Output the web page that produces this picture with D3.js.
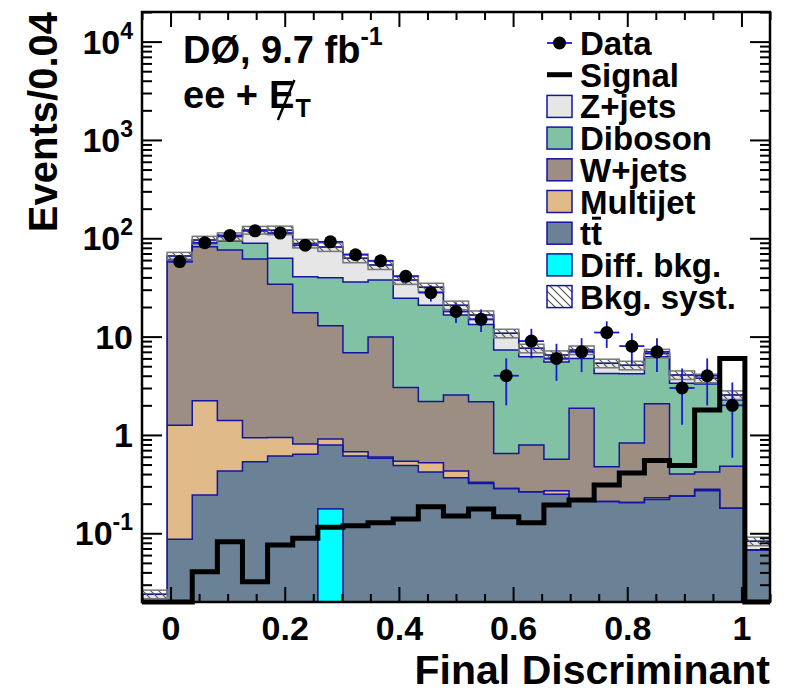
<!DOCTYPE html>
<html>
<head>
<meta charset="utf-8">
<script src="https://cdn.jsdelivr.net/npm/d3@7"></script>
<style>
  html, body { margin: 0; padding: 0; background: #fff; }
  svg text { font-family: "Liberation Sans", Arial, Helvetica, sans-serif; font-weight: bold; fill: #000; white-space: pre; }
</style>
</head>
<body>
<svg id="chart" width="785" height="693"></svg>
<script>
// 25 bins of width 0.044 spanning the full x range
const N_BINS = 25;
const X_LO = -0.05;
const BIN_W = 0.044;

// stacked backgrounds, per bin (bottom of stack first)
const ttbar    = [0, 0.087, 0.245, 0.43, 0.535, 0.61, 0.635, 0.79, 0.61, 0.578, 0.49, 0.42, 0.367, 0.32, 0.286, 0.265, 0.25, 0.22, 0.21, 0.205, 0.22, 0.24, 0.27, 0.18, 0.068];
const multijet = [0, 1.17, 1.98, 0.97, 0.40, 0.33, 0.175, 0.12, 0.066, 0.02, 0.05, 0.10, 0.063, 0.01, 0, 0, 0.02, 0, 0, 0, 0.01, 0, 0.01, 0, 0];
const wjets    = [0, 56.5, 79.8, 74.6, 60.6, 33.1, 16.7, 12.0, 6.18, 9.3, 2.50, 1.67, 2.12, 1.85, 0.36, 0.525, 0.295, 1.65, 0.265, 0.625, 1.84, 0.16, 0.14, 0.30, 0];
const diboson  = [0, 3.2, 7, 18, 27.5, 28.7, 23.1, 26.8, 29.1, 27.8, 21.5, 18.7, 14.0, 11.1, 6.65, 5.46, 4.94, 4.13, 3.73, 3.37, 4.18, 2.95, 2.88, 1.79, 0];
const zjets    = [0.024, 5, 7, 10, 32, 58, 48, 42, 26.7, 15.8, 13.2, 10.8, 4.3, 3.3, 3.5, 1.35, 1.0, 1.3, 1.15, 0.9, 0.5, 0.72, 0.47, 0.28, 0.015];

// overlaid histograms
const diffBkg  = [0, 0, 0, 0, 0, 0, 0, 0.177, 0, 0, 0, 0, 0, 0, 0, 0, 0, 0, 0, 0, 0, 0, 0, 0, 0];
const signal   = [0, 0, 0.0407, 0.082, 0.0321, 0.076, 0.089, 0.115, 0.119, 0.128, 0.14, 0.186, 0.15, 0.177, 0.147, 0.128, 0.194, 0.218, 0.31, 0.41, 0.55, 0.49, 1.79, 6.0, 0];
const dataCounts = [0, 58, 90, 107, 119, 113, 85, 92, 68, 59, 41, 28, 18, 15, 4, 9, 6, 7, 11, 8, 7, 3, 4, 2, 0];
const systFrac = [0.1, 0.09, 0.09, 0.09, 0.09, 0.1, 0.1, 0.1, 0.1, 0.1, 0.1, 0.1, 0.1, 0.1, 0.1, 0.1, 0.1, 0.1, 0.1, 0.1, 0.1, 0.1, 0.1, 0.1, 0.1];

// axis ticks
const xMajorTicks = [0, 0.2, 0.4, 0.6, 0.8, 1];
const xTickLabels = ['0', '0.2', '0.4', '0.6', '0.8', '1'];
const yMajorTicks = [0.1, 1, 10, 100, 1000, 10000];
const yTickLabels = [['10', '-1'], ['1', ''], ['10', ''], ['10', '2'], ['10', '3'], ['10', '4']];

const layers = [
  { key: 'ttbar',    color: '#6a8196', values: ttbar },
  { key: 'multijet', color: '#e0ba88', values: multijet },
  { key: 'wjets',    color: '#9c8e82', values: wjets },
  { key: 'diboson',  color: '#82c2a4', values: diboson },
  { key: 'zjets',    color: '#e6e6e6', values: zjets }
];

const LINE_BLUE = '#1414a0';
const DATA_BLUE = '#1a1ad0';

const frame = { left: 142, right: 770, top: 12, bottom: 602 };
const svg = d3.select('#chart');

const x = d3.scaleLinear().domain([X_LO, X_LO + N_BINS * BIN_W]).range([frame.left, frame.right]);
const y = d3.scaleLog().domain([0.02, 20000]).range([frame.bottom, frame.top]);
const yc = v => y(Math.max(v, 0.005));

const bins = d3.range(N_BINS).map(i => ({ i, lo: X_LO + i * BIN_W, hi: X_LO + (i + 1) * BIN_W }));

// table for d3.stack
const rows = bins.map(b => {
  const r = {};
  layers.forEach(l => { r[l.key] = l.values[b.i]; });
  return r;
});
const stacked = d3.stack().keys(layers.map(l => l.key))(rows);
const totals = rows.map(r => d3.sum(layers, l => r[l.key]));

const defs = svg.append('defs');
defs.append('clipPath').attr('id', 'plotclip')
  .append('rect')
  .attr('x', frame.left).attr('y', frame.top)
  .attr('width', frame.right - frame.left).attr('height', frame.bottom - frame.top);

const hatch = defs.append('pattern')
  .attr('id', 'hatch')
  .attr('patternUnits', 'userSpaceOnUse')
  .attr('width', 8).attr('height', 8);
hatch.append('path')
  .attr('d', 'M0,0 L8,8 M-2,6 L2,10 M6,-2 L10,2')
  .attr('stroke', '#555').attr('stroke-width', 1.2);

const plot = svg.append('g').attr('clip-path', 'url(#plotclip)');

// step points for a histogram
function stepPoints(vals) {
  const pts = [];
  bins.forEach(b => {
    pts.push({ x: b.lo, v: vals[b.i] });
    pts.push({ x: b.hi, v: vals[b.i] });
  });
  return pts;
}

// fills
stacked.forEach((s, k) => {
  const pts = [];
  bins.forEach(b => {
    pts.push({ x: b.lo, y0: s[b.i][0], y1: s[b.i][1] });
    pts.push({ x: b.hi, y0: s[b.i][0], y1: s[b.i][1] });
  });
  plot.append('path')
    .datum(pts)
    .attr('fill', layers[k].color)
    .attr('d', d3.area().x(d => x(d.x)).y0(d => yc(d.y0)).y1(d => yc(d.y1)));
});

// total outline (grey)
plot.append('path')
  .datum(stepPoints(totals))
  .attr('fill', 'none')
  .attr('stroke', '#777')
  .attr('stroke-width', 1.5)
  .attr('d', d3.line().x(d => x(d.x)).y(d => yc(d.v)));

// layer outlines (blue)
stacked.forEach(s => {
  const tops = s.map(d => d[1]);
  plot.append('path')
    .datum(stepPoints(tops))
    .attr('fill', 'none')
    .attr('stroke', LINE_BLUE)
    .attr('stroke-width', 1.5)
    .attr('d', d3.line().defined(d => d.v > 0).x(d => x(d.x)).y(d => yc(d.v)));
});

// syst band
plot.selectAll('.syst')
  .data(bins.filter(b => totals[b.i] > 0))
  .enter().append('rect')
  .attr('class', 'syst')
  .attr('x', b => x(b.lo))
  .attr('width', b => x(b.hi) - x(b.lo))
  .attr('y', b => y(totals[b.i] * (1 + systFrac[b.i])))
  .attr('height', b => y(totals[b.i] * (1 - systFrac[b.i])) - y(totals[b.i] * (1 + systFrac[b.i])))
  .attr('fill', 'url(#hatch)')
  .attr('stroke', '#777')
  .attr('stroke-width', 1.5);

// diff. bkg
plot.selectAll('.diff')
  .data(bins.filter(b => diffBkg[b.i] > 0))
  .enter().append('rect')
  .attr('class', 'diff')
  .attr('x', b => x(b.lo))
  .attr('width', b => x(b.hi) - x(b.lo))
  .attr('y', b => y(diffBkg[b.i]))
  .attr('height', b => frame.bottom + 5 - y(diffBkg[b.i]))
  .attr('fill', '#00ffff')
  .attr('stroke', LINE_BLUE)
  .attr('stroke-width', 1.5);

// signal
svg.append('path')
  .datum(stepPoints(signal))
  .attr('fill', 'none')
  .attr('stroke', '#000')
  .attr('stroke-width', 5)
  .attr('d', d3.line().x(d => x(d.x)).y(d => Math.min(yc(d.v), frame.bottom)));

// data
const dataBins = bins.filter(b => dataCounts[b.i] > 0);
const dg = plot.selectAll('.data').data(dataBins).enter().append('g');
dg.append('line')
  .attr('x1', b => x(b.lo)).attr('x2', b => x(b.hi))
  .attr('y1', b => y(dataCounts[b.i])).attr('y2', b => y(dataCounts[b.i]))
  .attr('stroke', DATA_BLUE).attr('stroke-width', 1.8);
dg.append('line')
  .attr('x1', b => x((b.lo + b.hi) / 2)).attr('x2', b => x((b.lo + b.hi) / 2))
  .attr('y1', b => yc(dataCounts[b.i] - Math.sqrt(dataCounts[b.i])))
  .attr('y2', b => y(dataCounts[b.i] + Math.sqrt(dataCounts[b.i])))
  .attr('stroke', DATA_BLUE).attr('stroke-width', 1.8);
dg.append('circle')
  .attr('cx', b => x((b.lo + b.hi) / 2))
  .attr('cy', b => y(dataCounts[b.i]))
  .attr('r', 6.5)
  .attr('fill', '#000');

// axes: ticks pointing inward
const xMinor = d3.range(-1, 22).map(k => k * 0.05).filter(v => !xMajorTicks.some(m => Math.abs(m - v) < 1e-6));
svg.append('g').attr('transform', `translate(0,${frame.bottom})`)
  .call(d3.axisBottom(x).tickValues(xMinor).tickSize(-8).tickFormat(''))
  .call(g => g.select('.domain').remove());
svg.append('g').attr('transform', `translate(0,${frame.top})`)
  .call(d3.axisTop(x).tickValues(xMinor).tickSize(-8).tickFormat(''))
  .call(g => g.select('.domain').remove());
svg.append('g').attr('transform', `translate(0,${frame.top})`)
  .call(d3.axisTop(x).tickValues(xMajorTicks).tickSize(-15).tickFormat(''))
  .call(g => g.select('.domain').remove());
const xAxis = svg.append('g').attr('transform', `translate(0,${frame.bottom})`)
  .call(d3.axisBottom(x).tickValues(xMajorTicks).tickSize(-15).tickPadding(14)
    .tickFormat((d, i) => xTickLabels[i]))
  .call(g => g.select('.domain').remove());
xAxis.selectAll('text').attr('font-size', 34).attr('font-family', null);

const yMinor = [];
for (let e = -2; e <= 4; e++) {
  for (let m = 2; m <= 9; m++) {
    const v = m * Math.pow(10, e);
    if (v >= 0.02 && v <= 20000) yMinor.push(v);
  }
}
[[d3.axisLeft, frame.left], [d3.axisRight, frame.right]].forEach(([ax, px]) => {
  svg.append('g').attr('transform', `translate(${px},0)`)
    .call(ax(y).tickValues(yMinor).tickSize(-10).tickFormat(''))
    .call(g => g.select('.domain').remove());
  svg.append('g').attr('transform', `translate(${px},0)`)
    .call(ax(y).tickValues(yMajorTicks).tickSize(-20).tickFormat(''))
    .call(g => g.select('.domain').remove());
});
svg.selectAll('.tick line').attr('stroke', '#000').attr('stroke-width', 2);

// y tick labels with exponents
yMajorTicks.forEach((v, i) => {
  const t = svg.append('text')
    .attr('x', 133).attr('y', y(v) + 12)
    .attr('text-anchor', 'end')
    .attr('font-size', 34);
  t.append('tspan').text(yTickLabels[i][0]);
  if (yTickLabels[i][1]) {
    t.append('tspan').attr('font-size', 23).attr('dy', -15).text(yTickLabels[i][1]);
  }
});

// frame
svg.append('rect')
  .attr('x', frame.left).attr('y', frame.top)
  .attr('width', frame.right - frame.left).attr('height', frame.bottom - frame.top)
  .attr('fill', 'none').attr('stroke', '#000').attr('stroke-width', 2.5);

// axis titles
svg.append('text')
  .attr('x', frame.right).attr('y', 684)
  .attr('text-anchor', 'end')
  .attr('font-size', 41)
  .text('Final Discriminant');
svg.append('text')
  .attr('transform', `translate(57,${frame.top}) rotate(-90)`)
  .attr('text-anchor', 'end')
  .attr('font-size', 40)
  .text('Events/0.04');

// experiment label
const lab1 = svg.append('text').attr('x', 183).attr('y', 63).attr('font-size', 38);
lab1.append('tspan').text('DØ, 9.7 fb');
lab1.append('tspan').attr('font-size', 25).attr('dy', -18).text('-1');

const lab2 = svg.append('text').attr('x', 183).attr('y', 108).attr('font-size', 38).text('ee +');
const eeW = lab2.node().getComputedTextLength() + 11;
const eText = svg.append('text').attr('x', 183 + eeW).attr('y', 108).attr('font-size', 38).text('E');
const eW = eText.node().getComputedTextLength();
svg.append('line')
  .attr('x1', 183 + eeW + eW * 0.35).attr('y1', 120)
  .attr('x2', 183 + eeW + eW * 1.0).attr('y2', 80)
  .attr('stroke', '#000').attr('stroke-width', 2.5);
svg.append('text').attr('x', 183 + eeW + eW + 1).attr('y', 117).attr('font-size', 25).text('T');

// legend
const legendItems = [
  { label: 'Data', type: 'data' },
  { label: 'Signal', type: 'signal' },
  { label: 'Z+jets', type: 'box', color: '#e6e6e6' },
  { label: 'Diboson', type: 'box', color: '#82c2a4' },
  { label: 'W+jets', type: 'box', color: '#9c8e82' },
  { label: 'Multijet', type: 'box', color: '#e0ba88' },
  { label: 'tt', type: 'box', color: '#6a8196', bar: true },
  { label: 'Diff. bkg.', type: 'box', color: '#00ffff' },
  { label: 'Bkg. syst.', type: 'box', color: 'url(#hatch)' }
];
const LEG_X = 547, LEG_Y = 43, LEG_DY = 31.7;
legendItems.forEach((it, i) => {
  const cy = LEG_Y + i * LEG_DY;
  const g = svg.append('g');
  if (it.type === 'data') {
    g.append('line').attr('x1', LEG_X).attr('x2', LEG_X + 25).attr('y1', cy).attr('y2', cy)
      .attr('stroke', DATA_BLUE).attr('stroke-width', 1.8);
    g.append('circle').attr('cx', LEG_X + 12.5).attr('cy', cy).attr('r', 6.5).attr('fill', '#000');
  } else if (it.type === 'signal') {
    g.append('line').attr('x1', LEG_X).attr('x2', LEG_X + 25).attr('y1', cy).attr('y2', cy)
      .attr('stroke', '#000').attr('stroke-width', 5);
  } else {
    g.append('rect').attr('x', LEG_X).attr('y', cy - 11).attr('width', 25).attr('height', 22)
      .attr('fill', it.color).attr('stroke', LINE_BLUE).attr('stroke-width', 1.5);
  }
  const t = g.append('text').attr('x', LEG_X + 33).attr('y', cy + 12).attr('font-size', 33).text(it.label);
  if (it.bar) {
    const w = t.node().getComputedTextLength();
    g.append('line')
      .attr('x1', LEG_X + 33 + w / 2 + 1).attr('x2', LEG_X + 33 + w - 1)
      .attr('y1', cy - 15).attr('y2', cy - 15)
      .attr('stroke', '#000').attr('stroke-width', 3);
  }
});
</script>
</body>
</html>
